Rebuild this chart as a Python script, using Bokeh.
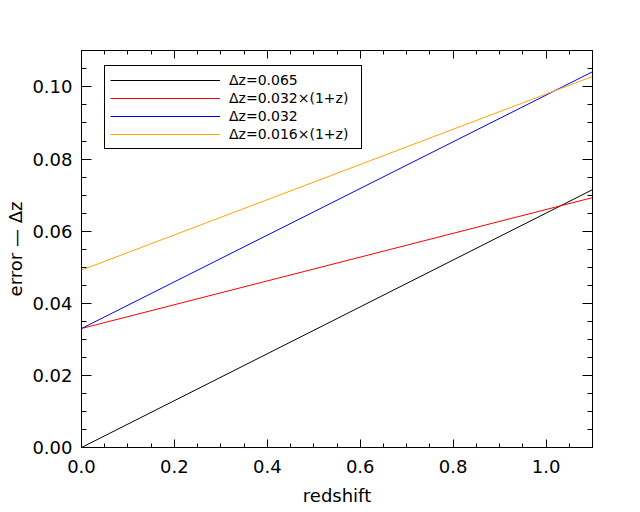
from bokeh.plotting import figure
from bokeh.models import (Range1d, SingleIntervalTicker, LinearAxis, Legend, LegendItem,
                          NumeralTickFormatter, CustomJSTickFormatter)
from bokeh.embed import file_html
from bokeh.resources import INLINE

# data
z = [0.0, 1.1]
err_a = [0.0, 0.0715]      # Δz=0.065
err_b = [0.033, 0.0693]    # Δz=0.032×(1+z)
err_c = [0.033, 0.1042]    # Δz=0.032
err_d = [0.0492, 0.1029]   # Δz=0.016×(1+z)
labels = ["Δz=0.065", "Δz=0.032×(1+z)", "Δz=0.032", "Δz=0.016×(1+z)"]
colors = ["black", "red", "blue", "orange"]

FONT = "DejaVu Sans"

p = figure(width=640, height=512, output_backend="svg", toolbar_location=None,
           x_range=Range1d(0, 1.1), y_range=Range1d(0, 0.1101),
           x_axis_location=None, y_axis_location=None,
           min_border_left=81, min_border_right=48, min_border_top=50, min_border_bottom=65)
p.grid.visible = False
p.outline_line_color = "black"
p.outline_line_width = 1
p.background_fill_color = "white"
p.border_fill_color = "white"

def mk_axis(kind, show_labels, title=None):
    if kind == "x":
        t = SingleIntervalTicker(interval=0.2, num_minor_ticks=4)
        fmt = NumeralTickFormatter(format="0.0")
        tin, mtin = 8, 4
    else:
        t = SingleIntervalTicker(interval=0.02, num_minor_ticks=4)
        fmt = NumeralTickFormatter(format="0.00")
        tin, mtin = 10, 5
    if not show_labels:
        fmt = CustomJSTickFormatter(code="return '';")
    ax = LinearAxis(ticker=t, formatter=fmt)
    ax.major_tick_in = tin
    ax.minor_tick_in = mtin
    ax.major_tick_out = 0
    ax.minor_tick_out = 0
    ax.axis_line_color = "black"
    ax.major_tick_line_color = "black"
    ax.minor_tick_line_color = "black"
    ax.major_label_text_font = FONT
    ax.major_label_text_color = "black"
    ax.major_label_text_font_size = "18px"
    if not show_labels:
        ax.major_label_standoff = 0
    if title:
        ax.axis_label = title
        ax.axis_label_text_font = FONT
        ax.axis_label_text_font_size = "18px"
        ax.axis_label_text_font_style = "normal"
        ax.axis_label_text_color = "black"
    return ax

bx = mk_axis("x", True, "redshift")
bx.major_label_standoff = 12
bx.axis_label_standoff = 9
p.add_layout(bx, "below")
tx = mk_axis("x", False)
p.add_layout(tx, "above")
ly = mk_axis("y", True, "error — Δz")
ly.major_label_standoff = 9
ly.axis_label_standoff = 3
p.add_layout(ly, "left")
ry = mk_axis("y", False)
p.add_layout(ry, "right")

series = [err_a, err_b, err_c, err_d]
renderers = []
for ys, c in zip(series, colors):
    r = p.line(z, ys, line_color=c, line_width=1)
    renderers.append(r)

legend = Legend(items=[LegendItem(label=l, renderers=[r]) for l, r in zip(labels, renderers)],
                location=(23, 298))
legend.padding = 5
legend.spacing = 0
legend.glyph_width = 110
legend.glyph_height = 18
legend.label_height = 18
legend.label_width = 127
legend.label_standoff = 9
legend.margin = 0
legend.label_text_font = FONT
legend.label_text_font_size = "14px"
legend.label_text_color = "black"
legend.border_line_color = "black"
legend.border_line_alpha = 1.0
legend.border_line_width = 1
legend.background_fill_color = "white"
legend.background_fill_alpha = 1.0
p.add_layout(legend, "center")

open("out.html", "w").write(file_html(p, INLINE))
